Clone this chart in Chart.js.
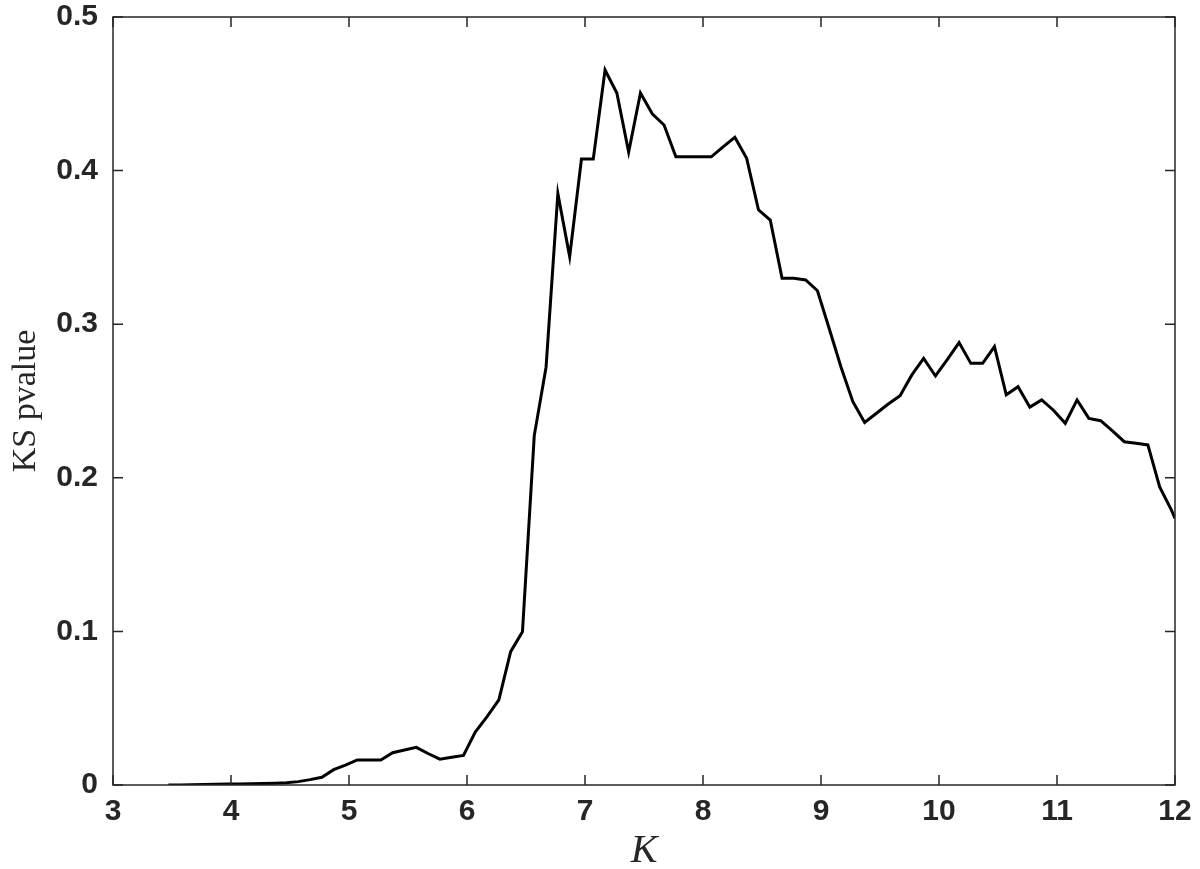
<!DOCTYPE html>
<html>
<head>
<meta charset="utf-8">
<script src="https://cdn.jsdelivr.net/npm/chart.js@4.4.1/dist/chart.umd.min.js"></script>
<style>
    body { margin: 0; background: #fff; }
    canvas { display: block; }
</style>
</head>
<body>
<canvas id="ks-chart" width="1200" height="869"></canvas>
<script>
// K values (x) and KS p-values (y)
const kValues = [
    3.47, 3.57, 3.67, 3.77, 3.87, 3.97, 4.07, 4.17, 4.27, 4.37,
    4.47, 4.57, 4.67, 4.77, 4.87, 4.97, 5.07, 5.17, 5.27, 5.37,
    5.47, 5.57, 5.67, 5.77, 5.87, 5.97, 6.07, 6.17, 6.27, 6.37,
    6.47, 6.57, 6.67, 6.77, 6.87, 6.97, 7.07, 7.17, 7.27, 7.37,
    7.47, 7.57, 7.67, 7.77, 7.87, 7.97, 8.07, 8.17, 8.27, 8.37,
    8.47, 8.57, 8.67, 8.77, 8.87, 8.97, 9.07, 9.17, 9.27, 9.37,
    9.47, 9.57, 9.67, 9.77, 9.87, 9.97, 10.07, 10.17, 10.27, 10.37,
    10.47, 10.57, 10.67, 10.77, 10.87, 10.97, 11.07, 11.17, 11.27, 11.37,
    11.47, 11.57, 11.67, 11.77, 11.87, 11.97, 12.0
];
const pValues = [
    0.0000, 0.0000, 0.0002, 0.0004, 0.0005, 0.0006, 0.0007, 0.0008, 0.0010, 0.0012,
    0.0015, 0.0022, 0.0035, 0.0050, 0.0100, 0.0130, 0.0163, 0.0163, 0.0163, 0.0210,
    0.0228, 0.0245, 0.0205, 0.0168, 0.0180, 0.0192, 0.0345, 0.0445, 0.0555, 0.0868,
    0.0997, 0.2275, 0.2720, 0.3850, 0.3440, 0.4075, 0.4075, 0.4655, 0.4505, 0.4120,
    0.4505, 0.4370, 0.4297, 0.4090, 0.4090, 0.4090, 0.4090, 0.4155, 0.4217, 0.4080,
    0.3745, 0.3678, 0.3299, 0.3299, 0.3288, 0.3218, 0.2970, 0.2720, 0.2496, 0.2360,
    0.2420, 0.2480, 0.2535, 0.2670, 0.2778, 0.2663, 0.2770, 0.2880, 0.2745, 0.2745,
    0.2854, 0.2540, 0.2593, 0.2460, 0.2507, 0.2440, 0.2355, 0.2507, 0.2387, 0.2372,
    0.2305, 0.2235, 0.2225, 0.2214, 0.1940, 0.1790, 0.1736
];
const xTicks = [3, 4, 5, 6, 7, 8, 9, 10, 11, 12];
const yTicks = [0, 0.1, 0.2, 0.3, 0.4, 0.5];

const axisColor = '#262626';

// рамка и внутренние засечки в стиле MATLAB
const boxPlugin = {
    id: 'matlabBox',
    afterDraw(chart) {
        const { ctx, chartArea: a, scales } = chart;
        const len = 10;
        ctx.save();
        ctx.strokeStyle = axisColor;
        ctx.lineWidth = 1.5;
        ctx.strokeRect(a.left, a.top, a.right - a.left, a.bottom - a.top);
        ctx.beginPath();
        xTicks.forEach(v => {
            const px = scales.x.getPixelForValue(v);
            ctx.moveTo(px, a.bottom); ctx.lineTo(px, a.bottom - len);
            ctx.moveTo(px, a.top); ctx.lineTo(px, a.top + len);
        });
        yTicks.forEach(v => {
            const py = scales.y.getPixelForValue(v);
            ctx.moveTo(a.left, py); ctx.lineTo(a.left + len, py);
            ctx.moveTo(a.right, py); ctx.lineTo(a.right - len, py);
        });
        ctx.stroke();
        ctx.restore();
    }
};

const points = kValues.map((k, i) => ({ x: k, y: pValues[i] }));

new Chart(document.getElementById('ks-chart'), {
    type: 'line',
    data: {
        datasets: [{
            data: points,
            borderColor: '#000',
            borderWidth: 3,
            pointRadius: 0,
            tension: 0,
            fill: false
        }]
    },
    options: {
        responsive: false,
        animation: false,
        layout: { padding: { left: 0, top: 17, right: 25, bottom: 0 } },
        plugins: {
            legend: { display: false },
            tooltip: { enabled: false }
        },
        scales: {
            x: {
                type: 'linear',
                min: 3,
                max: 12,
                afterFit: scale => {
                    scale.height = 84;
                    scale.paddingLeft = 0;
                    scale.paddingRight = 0;
                },
                afterBuildTicks: scale => { scale.ticks = xTicks.map(v => ({ value: v })); },
                grid: { display: false, drawTicks: false },
                border: { display: false },
                ticks: {
                    color: axisColor,
                    padding: 9,
                    maxRotation: 0,
                    autoSkip: false,
                    font: { family: 'Liberation Sans', size: 30, weight: 'bold' },
                    callback: v => String(v)
                },
                title: {
                    display: true,
                    text: 'K',
                    color: axisColor,
                    padding: { top: 0, bottom: -6 },
                    font: { family: 'Liberation Serif', size: 40, style: 'italic' }
                }
            },
            y: {
                min: 0,
                max: 0.5,
                afterFit: scale => {
                    scale.width = 113;
                    scale.paddingTop = 0;
                    scale.paddingBottom = 0;
                },
                afterBuildTicks: scale => { scale.ticks = yTicks.map(v => ({ value: v })); },
                grid: { display: false, drawTicks: false },
                border: { display: false },
                ticks: {
                    color: axisColor,
                    padding: 15,
                    font: { family: 'Liberation Sans', size: 30, weight: 'bold' },
                    callback: v => (v === 0 ? '0' : v.toFixed(1))
                },
                title: {
                    display: true,
                    text: 'KS pvalue',
                    color: axisColor,
                    padding: { top: 6, bottom: 0 },
                    font: { family: 'Liberation Serif', size: 34 }
                }
            }
        }
    },
    plugins: [boxPlugin]
});
</script>
</body>
</html>
